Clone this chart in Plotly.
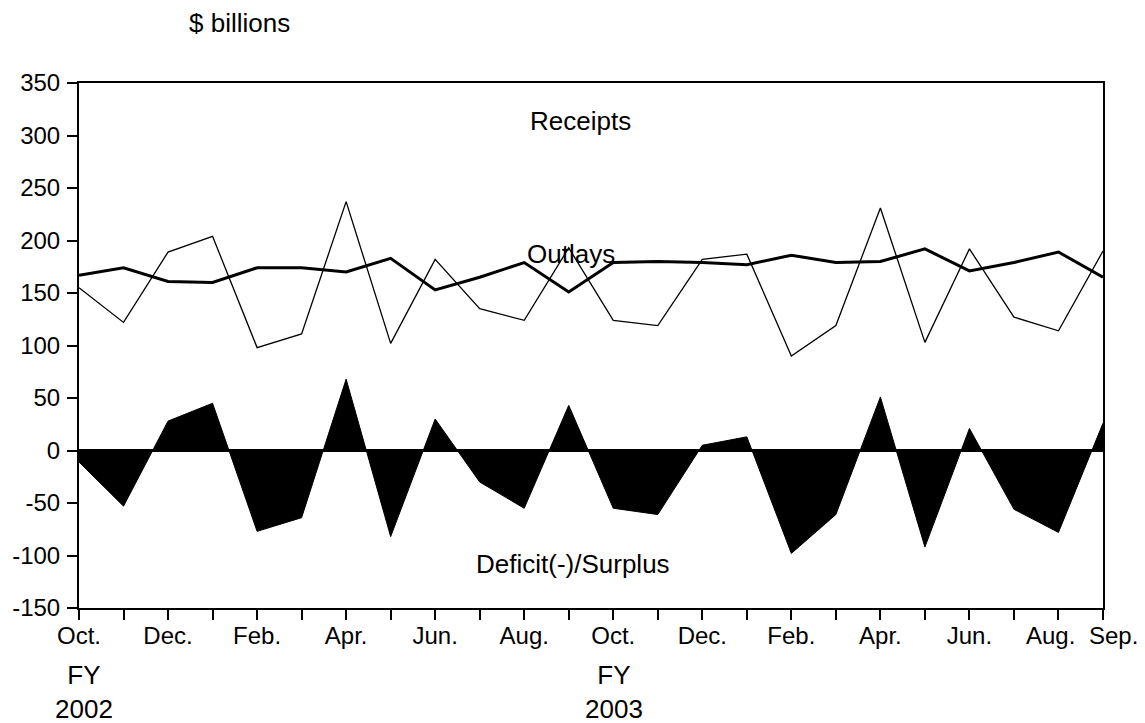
import plotly.graph_objects as go

months = ["Oct", "Nov", "Dec", "Jan", "Feb", "Mar", "Apr", "May", "Jun", "Jul", "Aug", "Sep",
          "Oct", "Nov", "Dec", "Jan", "Feb", "Mar", "Apr", "May", "Jun", "Jul", "Aug", "Sep"]
receipts = [155, 122, 189, 204, 98, 111, 237, 102, 182, 135, 124, 193,
            124, 119, 182, 187, 90, 119, 231, 103, 192, 127, 114, 190]
outlays = [167, 174, 161, 160, 174, 174, 170, 183, 153, 165, 179, 151,
           179, 180, 179, 177, 186, 179, 180, 192, 171, 179, 189, 165]
deficit = [-11, -53, 28, 45, -77, -64, 68, -82, 30, -30, -55, 43,
           -55, -61, 5, 13, -98, -61, 51, -92, 21, -56, -78, 26]
tick_text = ["Oct.", "", "Dec.", "", "Feb.", "", "Apr.", "", "Jun.", "", "Aug.", "",
             "Oct.", "", "Dec.", "", "Feb.", "", "Apr.", "", "Jun.", "", "", ""]
end_labels = ["Aug.", "Sep."]          # last two month labels, set apart
end_label_pos = [22, 23]
end_label_shift = [-8, 10]
y_ticks = [350, 300, 250, 200, 150, 100, 50, 0, -50, -100, -150]
y_tick_text = ["350", "300", "250", "200", "150", "100", "50", "0", "-50", "-100", "-150"]

x = list(range(len(months)))
FONT = "Liberation Sans, Arial, Helvetica, sans-serif"

# page is rendered with an 8px body margin
OFF = 8
W, H = 1145 - OFF, 723 - OFF
L, R, T, B = 79 - OFF, 42, 83 - OFF, 115

fig = go.Figure()
fig.add_trace(go.Scatter(x=x, y=deficit, mode="lines", fill="tozeroy",
                         fillcolor="black", line=dict(color="black", width=1),
                         name="Deficit(-)/Surplus"))
fig.add_trace(go.Scatter(x=x, y=receipts, mode="lines",
                         line=dict(color="black", width=1.3), name="Receipts"))
fig.add_trace(go.Scatter(x=x, y=outlays, mode="lines",
                         line=dict(color="black", width=3), name="Outlays"))

fig.update_layout(
    width=W, height=H,
    margin=dict(l=L, r=R, t=T, b=B, autoexpand=False),
    paper_bgcolor="white", plot_bgcolor="white",
    showlegend=False,
    font=dict(family=FONT, size=24, color="black"),
)
fig.update_xaxes(
    range=[0, 23], tickmode="array", tickvals=x, ticktext=tick_text,
    ticks="outside", ticklen=10, tickwidth=2, tickcolor="black", tickangle=0,
    ticklabelstandoff=-5, automargin=False,
    showline=True, linecolor="black", linewidth=2, mirror=True,
    showgrid=False, zeroline=False,
    tickfont=dict(family=FONT, size=24, color="black"),
)
fig.update_yaxes(
    range=[-150, 350], tickmode="array", tickvals=y_ticks, ticktext=y_tick_text,
    ticks="outside", ticklen=10, tickwidth=2, tickcolor="black",
    ticklabelstandoff=2, automargin=False,
    showline=True, linecolor="black", linewidth=2, mirror=True,
    showgrid=False, zeroline=True, zerolinecolor="black", zerolinewidth=3,
    tickfont=dict(family=FONT, size=24, color="black"),
)

pw = W - L - R
ph = H - T - B


def py(page_y):
    return 1 - (page_y - OFF - T) / ph


for lab, pos, sh in zip(end_labels, end_label_pos, end_label_shift):
    fig.add_annotation(
        text=lab, x=pos, xref="x", y=py(635), yref="paper", xshift=sh,
        showarrow=False, xanchor="center", yanchor="middle",
        font=dict(family=FONT, size=24, color="black"),
    )

ann = [
    dict(text="$ billions", x=239, y=23),
    dict(text="Receipts", x=580, y=121),
    dict(text="Outlays", x=571, y=254),
    dict(text="Deficit(-)/Surplus", x=573, y=564),
    dict(text="FY<br>2002", x=84, y=692),
    dict(text="FY<br>2003", x=614, y=692),
]
for a in ann:
    fig.add_annotation(
        text=a["text"], x=(a["x"] - OFF - L) / pw, y=py(a["y"]),
        xref="paper", yref="paper", showarrow=False,
        xanchor="center", yanchor="middle", align="center",
        font=dict(family=FONT, size=26, color="black"),
    )

fig.write_html("out.html")
